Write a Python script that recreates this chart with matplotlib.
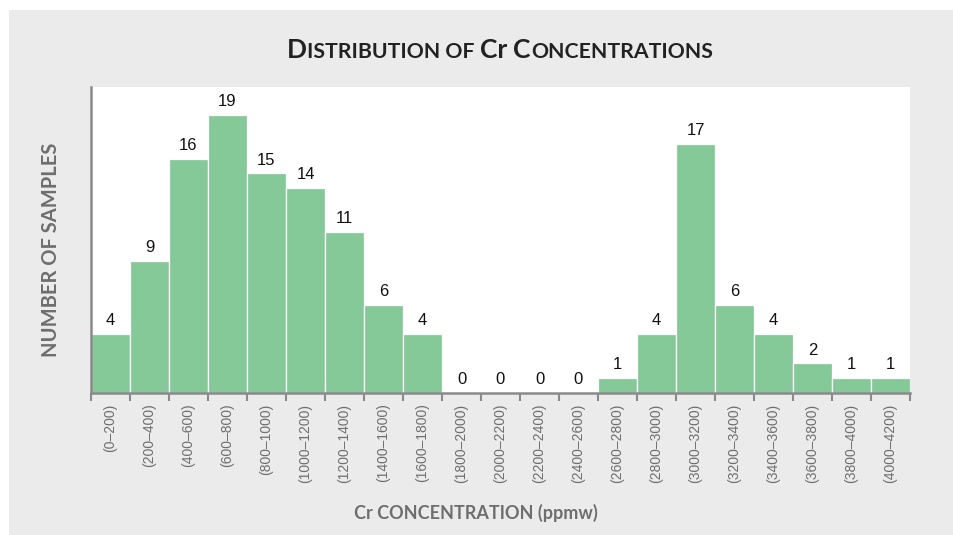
import matplotlib
matplotlib.use('Agg')
import matplotlib.pyplot as plt
from matplotlib.patches import Rectangle

# Bin labels and counts
bins = ['(0–200)', '(200–400)', '(400–600)', '(600–800)', '(800–1000)',
        '(1000–1200)', '(1200–1400)', '(1400–1600)', '(1600–1800)',
        '(1800–2000)', '(2000–2200)', '(2200–2400)', '(2400–2600)',
        '(2600–2800)', '(2800–3000)', '(3000–3200)', '(3200–3400)',
        '(3400–3600)', '(3600–3800)', '(3800–4000)', '(4000–4200)']
counts = [4, 9, 16, 19, 15, 14, 11, 6, 4, 0, 0, 0, 0, 1, 4, 17, 6, 4, 2, 1, 1]

bar_color = '#85c999'
grey_text = '#6e6e6e'
axis_grey = '#8a8a8a'

W, H = 954, 535
fig = plt.figure(figsize=(W / 100, H / 100), dpi=100, facecolor='white')
# grey panel behind everything
fig.patches.append(Rectangle((9 / W, 0), 1 - 9 / W, 1 - 10 / H, transform=fig.transFigure,
                             facecolor='#ebebeb', edgecolor='none', zorder=-10))

ax = fig.add_axes([91 / W, 142.5 / H, (910 - 91) / W, (392.5 - 87) / H])
ax.set_facecolor('white')

x = list(range(len(counts)))
# no outline on empty bins so the axis line stays visible there
edge_widths = [0.9 if c > 0 else 0 for c in counts]
ax.bar(x, counts, width=1, align='edge', color=bar_color, edgecolor='white',
       linewidth=edge_widths, zorder=1)
for xi, c in zip(x, counts):
    ax.annotate(str(c), (xi + 0.5, c), xytext=(0, 4), textcoords='offset points',
                ha='center', va='bottom', fontsize=12, family='Liberation Sans', color='#111111')

ax.set_xlim(0, len(counts))
ax.set_ylim(0, 20.9)

ax.set_xticks(range(len(counts) + 1))
ax.set_xticklabels([])
ax.set_xticks([xi + 0.5 for xi in x], minor=True)
ax.set_xticklabels(bins, minor=True, rotation=90, fontsize=10, family='Liberation Sans', color=grey_text)
ax.tick_params(axis='x', which='major', length=6, width=1.5, color=axis_grey)
ax.tick_params(axis='x', which='minor', length=0, pad=8)
ax.set_yticks([])

for s in ['top', 'right']:
    ax.spines[s].set_visible(False)
for s in ['left', 'bottom']:
    ax.spines[s].set_color(axis_grey)
    ax.spines[s].set_linewidth(1.8)
    ax.spines[s].set_zorder(3)

fig.text(51 / W, 1 - 250 / H, 'NUMBER OF SAMPLES', rotation=90, ha='center', va='center',
         fontsize=14.5, family='Lato', fontweight='bold', color=grey_text)
fig.text(476 / W, 1 - 513 / H, 'Cr CONCENTRATION (ppmw)', ha='center', va='center',
         fontsize=13, family='Lato', fontweight='bold', color=grey_text)

# title in small caps, built from pieces
pieces = [('D', 19), ('ISTRIBUTION OF ', 15.3), ('Cr ', 19), ('C', 19), ('ONCENTRATIONS', 15.3)]
renderer = fig.canvas.get_renderer()
texts = []
for s, size in pieces:
    t = fig.text(0, 1 - 58 / H, s, fontsize=size, family='Lato', fontweight='bold',
                 color='#222222', ha='left', va='baseline')
    texts.append(t)
widths = [t.get_window_extent(renderer).width for t in texts]
left = 500 - sum(widths) / 2
for t, w in zip(texts, widths):
    t.set_x(left / W)
    left += w

fig.savefig('out.png', dpi=100, facecolor='white')
